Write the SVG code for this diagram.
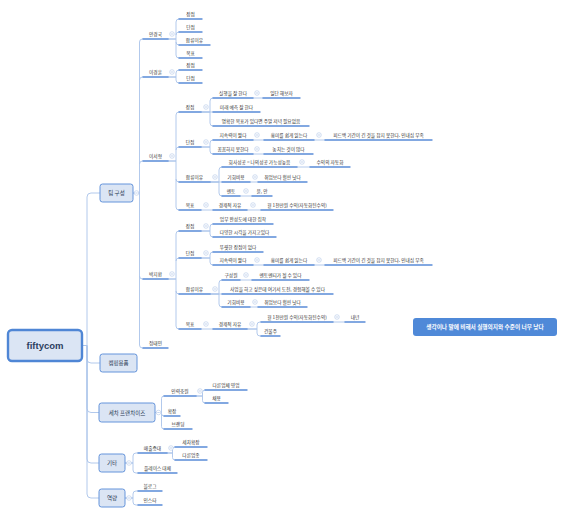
<svg xmlns="http://www.w3.org/2000/svg" xmlns:xlink="http://www.w3.org/1999/xlink" width="562" height="515" viewBox="0 0 562 515">
<style>
.c{fill:none;stroke:#a9c3ea;stroke-width:0.9}
.u{stroke:#5a8cd8;stroke-width:1.4;stroke-linecap:round}
.t{font-family:"Noto Sans CJK KR","Noto Sans",sans-serif;font-size:4.7px;fill:#333;text-anchor:middle}
.bx{fill:#dbe5f4;stroke:#6594db;stroke-width:1}
.bt{font-family:"Noto Sans CJK KR","Noto Sans",sans-serif;font-size:5.5px;fill:#2b3b55;text-anchor:middle}
</style>
<defs>
<g id="col"><circle r="2.3" fill="#fff" stroke="#b3c8e8" stroke-width="0.6"/><path d="M-1.2 0H1.2" stroke="#9fb8e0" stroke-width="0.6"/></g>
</defs>
<rect width="562" height="515" fill="#fff"/>
<g id="connectors">
<path class="c" d="M82 345.5H87V197Q87 193 91 193H100M82 345.5H87V359Q87 363 91 363H100M82 345.5H87V408.5Q87 412.5 91 412.5H99M82 345.5H87V459Q87 463 91 463H99M82 345.5H87V494Q87 498 91 498H99"/>
<path class="c" d="M133 193H139.5V42Q139.5 39 142.5 39H143M139.5 80Q139.5 77 142.5 77H143M139.5 164Q139.5 161 142.5 161H143M133 193H139.5V276Q139.5 279 142.5 279H143M139.5 276V345Q139.5 348 142.5 348H143"/>
<path class="c" d="M168 39H176V22Q176 19 179 19M176 35Q176 32 179 32M168 39H176V42Q176 45 179 45M176 42V55Q176 58 179 58"/>
<path class="c" d="M168 77H176V73Q176 70 179 70M168 77H176V80Q176 83 179 83"/>
<path class="c" d="M168 161H176V115Q176 112 179 112M176 150Q176 147 179 147M168 161H176V179Q176 182 179 182M176 179V207Q176 210 179 210"/>
<path class="c" d="M201 112H210V101Q210 98 213 98M201 112H213M201 112H210V123Q210 126 213 126M253 98H263"/>
<path class="c" d="M201 147H210V143Q210 140 213 140M201 147H210V151Q210 154 213 154M253 140H264M314 140H325M253 154H264"/>
<path class="c" d="M210 182H219V170Q219 167 222 167M210 182H222M210 182H219V193Q219 196 222 196M297 167H310M250 182H258M240 196H252"/>
<path class="c" d="M201 210H213M247 210H261"/>
<path class="c" d="M168 279H176V234Q176 231 179 231M176 261Q176 258 179 258M168 279H176V291Q176 294 179 294M176 291V326Q176 329 179 329"/>
<path class="c" d="M201 231H210V227Q210 224 213 224M201 231H210V234Q210 237 213 237"/>
<path class="c" d="M201 258H210V255Q210 252 213 252M201 258H210V262Q210 265 213 265M253 265H264M314 265H325"/>
<path class="c" d="M210 294H219V283Q219 280 222 280M210 294H222M210 294H219V304Q219 307 222 307M240 280H252M250 307H258"/>
<path class="c" d="M201 329H213M247 329H257V325Q257 322 260 322H261M247 329H257V333Q257 336 260 336H261M333 322H345"/>
<path class="c" d="M155 412.5H161.5V398.5Q161.5 396 164 396M155 412.5H161.5V413.5Q161.5 416 164 416M161.5 413.5V426.5Q161.5 429 164 429"/>
<path class="c" d="M196 396H202.5V392.5Q202.5 390 205 390M196 396H202.5V400.5Q202.5 403 205 403"/>
<path class="c" d="M125 463H133V456Q133 453 136 453H138M125 463H133V470Q133 473 136 473H138"/>
<path class="c" d="M167 453H172.5V449.5Q172.5 447 175 447M167 453H172.5V457.5Q172.5 460 175 460"/>
<path class="c" d="M125 498H133V494Q133 491 136 491H138M125 498H133V502Q133 505 136 505H138"/>
</g>
<g id="root"><rect x="8" y="330" width="74" height="31" rx="4" fill="#dbe5f4" stroke="#4f86d5" stroke-width="2.4"/><text x="45" y="349" font-family="'Liberation Sans',sans-serif" font-size="9.5" font-weight="bold" fill="#2c3e5f" text-anchor="middle">fiftycom</text></g>
<g id="team"><rect class="bx" x="100" y="184" width="33" height="18" rx="2.5"/><text class="bt" x="116.5" y="195">팀 구성</text></g>
<g id="camp"><rect class="bx" x="100" y="354" width="37" height="18" rx="2.5"/><text class="bt" x="118.5" y="365">캠핑용품</text></g>
<g id="carwash"><rect class="bx" x="99" y="403" width="56" height="19" rx="2.5"/><text class="bt" x="127" y="414.5">세차 프랜차이즈</text></g>
<g id="etc"><rect class="bx" x="99" y="454" width="26" height="18" rx="2.5"/><text class="bt" x="112" y="465">기타</text></g>
<g id="cap"><rect class="bx" x="99" y="489" width="26" height="18" rx="2.5"/><text class="bt" x="112" y="500">역량</text></g>
<g id="ahn"><line class="u" x1="143" x2="168" y1="39" y2="39"/><text class="t" x="155.5" y="35.5">안경국</text></g>
<g id="ahn-s"><line class="u" x1="179" x2="202" y1="19" y2="19"/><text class="t" x="190.5" y="15.5">장점</text></g>
<g id="ahn-w"><line class="u" x1="179" x2="202" y1="32" y2="32"/><text class="t" x="190.5" y="28.5">단점</text></g>
<g id="ahn-r"><line class="u" x1="179" x2="210" y1="45" y2="45"/><text class="t" x="194.5" y="41.5">합류이유</text></g>
<g id="ahn-g"><line class="u" x1="179" x2="202" y1="58" y2="58"/><text class="t" x="190.5" y="54.5">목표</text></g>
<g id="lee"><line class="u" x1="143" x2="168" y1="77" y2="77"/><text class="t" x="155.5" y="73.5">이경훈</text></g>
<g id="lee-s"><line class="u" x1="179" x2="202" y1="70" y2="70"/><text class="t" x="190.5" y="66.5">장점</text></g>
<g id="lee-w"><line class="u" x1="179" x2="202" y1="83" y2="83"/><text class="t" x="190.5" y="79.5">단점</text></g>
<g id="seo"><line class="u" x1="143" x2="168" y1="161" y2="161"/><text class="t" x="155.5" y="157.5">이서형</text></g>
<g id="seo-s"><line class="u" x1="179" x2="201" y1="112" y2="112"/><text class="t" x="190" y="108.5">장점</text></g>
<g id="seo-s1"><line class="u" x1="213" x2="253" y1="98" y2="98"/><text class="t" x="233" y="94.5">실행을 잘 한다</text></g>
<g id="seo-s1a"><line class="u" x1="263" x2="300" y1="98" y2="98"/><text class="t" x="281.5" y="94.5">일단 해보자</text></g>
<g id="seo-s2"><line class="u" x1="213" x2="260" y1="112" y2="112"/><text class="t" x="236.5" y="108.5">미래 예측 잘 한다</text></g>
<g id="seo-s3"><line class="u" x1="213" x2="309" y1="126" y2="126"/><text class="t" x="261" y="122.5">명확한 목표가 있다면 주말 저녁 필요없음</text></g>
<g id="seo-w"><line class="u" x1="179" x2="201" y1="147" y2="147"/><text class="t" x="190" y="143.5">단점</text></g>
<g id="seo-w1"><line class="u" x1="213" x2="253" y1="140" y2="140"/><text class="t" x="233" y="136.5">지속력이 짧다</text></g>
<g id="seo-w1a"><line class="u" x1="264" x2="314" y1="140" y2="140"/><text class="t" x="289" y="136.5">흥미를 쉽게 잃는다</text></g>
<g id="seo-w1b"><line class="u" x1="325" x2="432" y1="140" y2="140"/><text class="t" x="378.5" y="136.5">피드백 기간이 긴 것을 참지 못한다. 인내심 부족</text></g>
<g id="seo-w2"><line class="u" x1="213" x2="253" y1="154" y2="154"/><text class="t" x="233" y="150.5">꼼꼼하지 못한다</text></g>
<g id="seo-w2a"><line class="u" x1="264" x2="313" y1="154" y2="154"/><text class="t" x="288.5" y="150.5">놓치는 것이 많다</text></g>
<g id="seo-r"><line class="u" x1="179" x2="210" y1="182" y2="182"/><text class="t" x="194.5" y="178.5">합류이유</text></g>
<g id="seo-r1"><line class="u" x1="222" x2="297" y1="167" y2="167"/><text class="t" x="259.5" y="163.5">회사성공 = 나의성공 가능성높음</text></g>
<g id="seo-r1a"><line class="u" x1="310" x2="350" y1="167" y2="167"/><text class="t" x="330" y="163.5">수익의 자동화</text></g>
<g id="seo-r2"><line class="u" x1="222" x2="250" y1="182" y2="182"/><text class="t" x="236" y="178.5">기회비용</text></g>
<g id="seo-r2a"><line class="u" x1="258" x2="307" y1="182" y2="182"/><text class="t" x="282.5" y="178.5">취업보다 훨씬 낫다</text></g>
<g id="seo-r3"><line class="u" x1="222" x2="240" y1="196" y2="196"/><text class="t" x="231" y="192.5">멘토</text></g>
<g id="seo-r3a"><line class="u" x1="252" x2="272" y1="196" y2="196"/><text class="t" x="262" y="192.5">윤, 안</text></g>
<g id="seo-g"><line class="u" x1="179" x2="201" y1="210" y2="210"/><text class="t" x="190" y="206.5">목표</text></g>
<g id="seo-g1"><line class="u" x1="213" x2="247" y1="210" y2="210"/><text class="t" x="230" y="206.5">경제적 자유</text></g>
<g id="seo-g1a"><line class="u" x1="261" x2="333" y1="210" y2="210"/><text class="t" x="297" y="206.5">월 1천만원 수익(자동화된수익)</text></g>
<g id="park"><line class="u" x1="143" x2="168" y1="279" y2="279"/><text class="t" x="155.5" y="275.5">박지환</text></g>
<g id="park-s"><line class="u" x1="179" x2="201" y1="231" y2="231"/><text class="t" x="190" y="227.5">장점</text></g>
<g id="park-s1"><line class="u" x1="213" x2="273" y1="224" y2="224"/><text class="t" x="243" y="220.5">업무 완성도에 대한 집착</text></g>
<g id="park-s2"><line class="u" x1="213" x2="276" y1="237" y2="237"/><text class="t" x="244.5" y="233.5">다양한 시각을 가지고있다</text></g>
<g id="park-w"><line class="u" x1="179" x2="201" y1="258" y2="258"/><text class="t" x="190" y="254.5">단점</text></g>
<g id="park-w1"><line class="u" x1="213" x2="263" y1="252" y2="252"/><text class="t" x="238" y="248.5">뚜렷한 장점이 없다</text></g>
<g id="park-w2"><line class="u" x1="213" x2="253" y1="265" y2="265"/><text class="t" x="233" y="261.5">지속력이 짧다</text></g>
<g id="park-w2a"><line class="u" x1="264" x2="314" y1="265" y2="265"/><text class="t" x="289" y="261.5">흥미를 쉽게 잃는다</text></g>
<g id="park-w2b"><line class="u" x1="325" x2="432" y1="265" y2="265"/><text class="t" x="378.5" y="261.5">피드백 기간이 긴 것을 참지 못한다. 인내심 부족</text></g>
<g id="park-r"><line class="u" x1="179" x2="210" y1="294" y2="294"/><text class="t" x="194.5" y="290.5">합류이유</text></g>
<g id="park-r1"><line class="u" x1="222" x2="240" y1="280" y2="280"/><text class="t" x="231" y="276.5">구성원</text></g>
<g id="park-r1a"><line class="u" x1="252" x2="309" y1="280" y2="280"/><text class="t" x="280.5" y="276.5">멘토멘티가 될 수 있다</text></g>
<g id="park-r2"><line class="u" x1="222" x2="333" y1="294" y2="294"/><text class="t" x="277.5" y="290.5">사업을 하고 싶은데 여기서 도전, 경험해볼 수 있다</text></g>
<g id="park-r3"><line class="u" x1="222" x2="250" y1="307" y2="307"/><text class="t" x="236" y="303.5">기회비용</text></g>
<g id="park-r3a"><line class="u" x1="258" x2="307" y1="307" y2="307"/><text class="t" x="282.5" y="303.5">취업보다 훨씬 낫다</text></g>
<g id="park-g"><line class="u" x1="179" x2="201" y1="329" y2="329"/><text class="t" x="190" y="325.5">목표</text></g>
<g id="park-g1"><line class="u" x1="213" x2="247" y1="329" y2="329"/><text class="t" x="230" y="325.5">경제적 자유</text></g>
<g id="park-g1a"><line class="u" x1="261" x2="333" y1="322" y2="322"/><text class="t" x="297" y="318.5">월 1천만원 수익(자동화된수익)</text></g>
<g id="park-g1a1"><line class="u" x1="345" x2="365" y1="322" y2="322"/><text class="t" x="355" y="318.5">내년</text></g>
<g id="park-g1b"><line class="u" x1="261" x2="280" y1="336" y2="336"/><text class="t" x="270.5" y="332.5">건물주</text></g>
<g id="jung"><line class="u" x1="143" x2="168" y1="348" y2="348"/><text class="t" x="155.5" y="344.5">정태민</text></g>
<g id="cw-1"><line class="u" x1="164" x2="196" y1="396" y2="396"/><text class="t" x="180" y="392.5">인력충원</text></g>
<g id="cw-1a"><line class="u" x1="205" x2="247" y1="390" y2="390"/><text class="t" x="226" y="386.5">다른업체 영업</text></g>
<g id="cw-1b"><line class="u" x1="205" x2="228" y1="403" y2="403"/><text class="t" x="216.5" y="399.5">채용</text></g>
<g id="cw-2"><line class="u" x1="164" x2="180" y1="416" y2="416"/><text class="t" x="172" y="412.5">확장</text></g>
<g id="cw-3"><line class="u" x1="164" x2="192" y1="429" y2="429"/><text class="t" x="178" y="425.5">브랜딩</text></g>
<g id="etc-1"><line class="u" x1="138" x2="167" y1="453" y2="453"/><text class="t" x="152.5" y="449.5">매출증대</text></g>
<g id="etc-1a"><line class="u" x1="175" x2="207" y1="447" y2="447"/><text class="t" x="191" y="443.5">세차확장</text></g>
<g id="etc-1b"><line class="u" x1="175" x2="207" y1="460" y2="460"/><text class="t" x="191" y="456.5">다른업종</text></g>
<g id="etc-2"><line class="u" x1="138" x2="177" y1="473" y2="473"/><text class="t" x="157.5" y="469.5">플레이스 대체</text></g>
<g id="cap-1"><line class="u" x1="138" x2="162" y1="491" y2="491"/><text class="t" x="150" y="487.5">블로그</text></g>
<g id="cap-2"><line class="u" x1="138" x2="162" y1="505" y2="505"/><text class="t" x="150" y="501.5">인스타</text></g>
<g id="collapse">
<use href="#col" x="136.5" y="193"/><use href="#col" x="172" y="34"/><use href="#col" x="172" y="72"/><use href="#col" x="172" y="156"/><use href="#col" x="172" y="274"/>
<use href="#col" x="206" y="107"/><use href="#col" x="206" y="142"/><use href="#col" x="215" y="177"/><use href="#col" x="206" y="205"/>
<use href="#col" x="257" y="93"/><use href="#col" x="257" y="135"/><use href="#col" x="319" y="135"/><use href="#col" x="257" y="149"/>
<use href="#col" x="302" y="162"/><use href="#col" x="255" y="177"/><use href="#col" x="246" y="191"/><use href="#col" x="253" y="205"/>
<use href="#col" x="206" y="226"/><use href="#col" x="206" y="253"/><use href="#col" x="215" y="289"/><use href="#col" x="206" y="324"/>
<use href="#col" x="257" y="260"/><use href="#col" x="319" y="260"/><use href="#col" x="246" y="275"/><use href="#col" x="255" y="302"/>
<use href="#col" x="252" y="324"/><use href="#col" x="337" y="317"/>
<use href="#col" x="158.5" y="412.5"/><use href="#col" x="200" y="391"/><use href="#col" x="129" y="463"/><use href="#col" x="171" y="448"/><use href="#col" x="129" y="498"/>
</g>
<g id="note"><rect x="413" y="318" width="144" height="18" rx="3" fill="#4f89d8"/><text x="485" y="329" font-family="'Noto Sans CJK KR','Noto Sans',sans-serif" font-size="5.7" font-weight="bold" fill="#fff" text-anchor="middle">생각이나 말에 비해서 실행의지와 수준이 너무 낮다</text></g>
</svg>
